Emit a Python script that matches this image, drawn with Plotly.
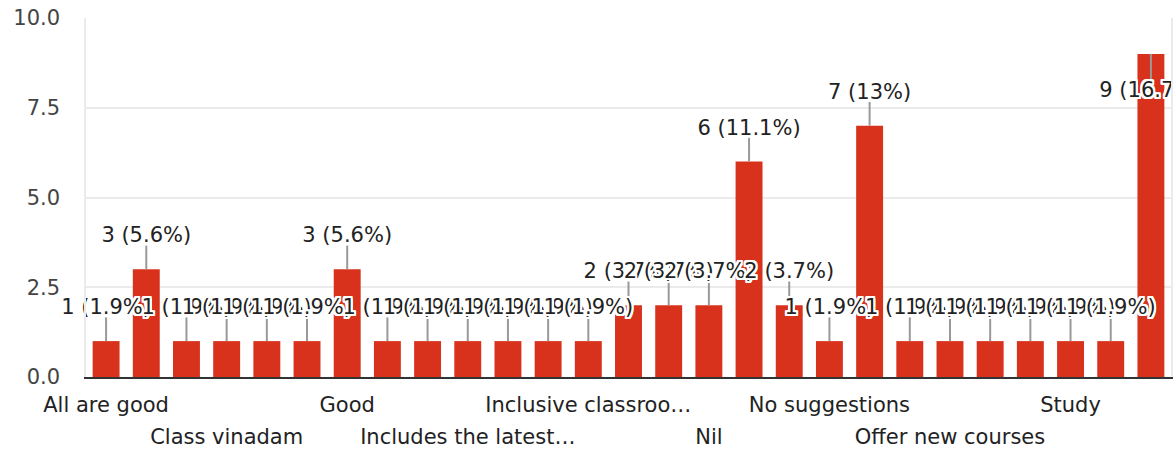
import plotly.graph_objects as go

categories = [
    "All are good", "All good", "Better", "Class vinadam", "Excellent",
    "Extra classes", "Good", "Good teaching", "Improve labs",
    "Includes the latest…", "Includes workshops", "Inclusive approach",
    "Inclusive classroo…", "Industrial visits", "Make classes interactive",
    "Nil", "No", "No comments", "No suggestions", "Nothing",
    "Nothing to say", "Offer new courses", "Ok", "Practical classes",
    "Study", "Teaching is good", "Very good",
]
counts = [1, 3, 1, 1, 1, 1, 3, 1, 1, 1, 1, 1, 1, 2, 2, 2, 6, 2, 1, 7,
          1, 1, 1, 1, 1, 1, 9]
y_ticks = [0, 2.5, 5, 7.5, 10]

# tick labels shown: every third category, alternating in two rows
row1_idx = [0, 6, 12, 18, 24]
row2_idx = [3, 9, 15, 21]

FONT = "DejaVu Sans"
BAR = "#d9321c"
YMAX = 10

total = sum(counts)


def pct(v):
    p = round(100 * v / total, 1)
    s = f"{p:.1f}"
    if s.endswith(".0"):
        s = s[:-2]
    return f"{v} ({s}%)"


xs = list(range(len(categories)))
labels = [pct(v) for v in counts]

LINE = 0.66      # leader line length (data units)
TXT_UP = 0.90    # label centre above bar top
TXT_DN = 1.05    # label centre below bar top when no room above
below = [v + TXT_UP + 0.35 > YMAX for v in counts]
label_y = [v - TXT_DN if b else v + TXT_UP for v, b in zip(counts, below)]
err_up = [0 if b else LINE for b in below]
err_dn = [LINE + 0.04 if b else 0 for b in below]

halo = ", ".join(f"{dx}px {dy}px 0 #fff" for dx, dy in
                 [(2, 0), (-2, 0), (0, 2), (0, -2), (2, 2), (-2, -2), (2, -2), (-2, 2),
                  (1, 2), (2, 1), (-1, 2), (-2, 1), (1, -2), (2, -1), (-1, -2), (-2, -1)])

fig = go.Figure()
fig.add_trace(go.Bar(
    x=xs, y=counts, marker=dict(color=BAR, line=dict(width=0)),
    hovertext=categories, hoverinfo="text+y",
))
fig.add_trace(go.Scatter(
    x=xs, y=counts, mode="markers",
    marker=dict(size=1, color="rgba(0,0,0,0)"),
    error_y=dict(type="data", symmetric=False, array=err_up, arrayminus=err_dn,
                 width=0, thickness=2, color="#999999"),
    cliponaxis=False, hoverinfo="skip",
))
fig.add_trace(go.Scatter(
    x=xs, y=label_y, mode="text", text=labels, textposition="middle center",
    textfont=dict(family=FONT, size=21, color="#222222", shadow=halo),
    cliponaxis=False, hoverinfo="skip",
))
# invisible trace to carry the second row of category labels
fig.add_trace(go.Scatter(x=xs, y=counts, xaxis="x2", mode="markers",
                         marker=dict(size=1, color="rgba(0,0,0,0)"),
                         hoverinfo="skip"))

fig.update_layout(
    width=1173, height=452,
    margin=dict(l=86, r=2, t=18, b=75, autoexpand=False),
    paper_bgcolor="white", plot_bgcolor="white",
    showlegend=False, bargap=0.33,
    font=dict(family=FONT),
    xaxis=dict(
        range=[-0.5, len(categories) - 0.5],
        tickvals=row1_idx, ticktext=[categories[i] for i in row1_idx],
        tickfont=dict(family=FONT, size=21, color="#222222"),
        showgrid=False, zeroline=False, ticks="",
        showline=True, linecolor="#333333", linewidth=2,
        ticklabelstandoff=8,
    ),
    xaxis2=dict(
        overlaying="x", anchor="y", side="bottom",
        range=[-0.5, len(categories) - 0.5],
        tickvals=row2_idx, ticktext=[categories[i] for i in row2_idx],
        tickfont=dict(family=FONT, size=21, color="#222222"),
        showgrid=False, zeroline=False, ticks="", showline=False,
        ticklabelstandoff=45,
    ),
    yaxis=dict(
        range=[0, YMAX], tickvals=y_ticks, tickformat=".1f",
        tickfont=dict(family=FONT, size=21, color="#444444"),
        showgrid=True, gridcolor="#ebebeb", gridwidth=1.5,
        zeroline=False, ticks="",
        showline=True, linecolor="#ebebeb", linewidth=1.5, mirror=True,
        ticklabelstandoff=20,
    ),
)

fig.write_html(
    "out.html",
    config={"displayModeBar": False},
    post_script="document.body.style.margin='0';document.body.style.overflow='hidden';",
)
